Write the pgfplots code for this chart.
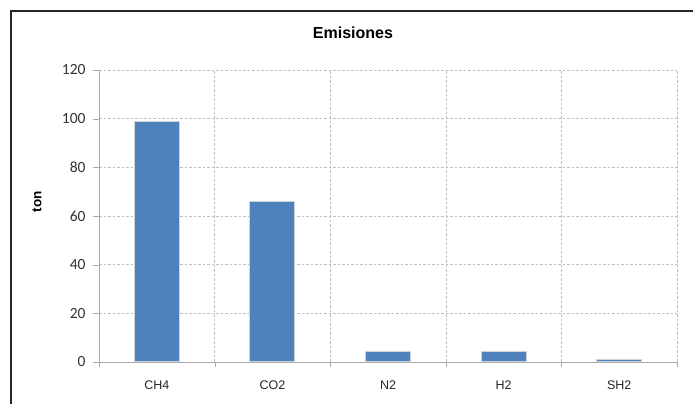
\documentclass[border=0pt]{standalone}
\usepackage{fontspec}
\setmainfont{Liberation Sans}
\newfontfamily\tickfont{Carlito}
\usepackage{pgfplots}
\pgfplotsset{compat=1.18}
\definecolor{barblue}{RGB}{79,129,189}
\definecolor{baredge}{RGB}{205,212,222}
\definecolor{gridgray}{RGB}{190,190,190}
\definecolor{axisgray}{RGB}{170,170,170}
\begin{document}
\begin{tikzpicture}[x=1pt,y=1pt]
\useasboundingbox (0,0) rectangle (693,404);
\fill[white] (0,0) rectangle (693,404);
% marco
\draw[line width=2.2pt, black!85] (11,0) -- (11,393) -- (693,393);
\node[font=\fontsize{16}{16}\selectfont\bfseries] at (353,371) {Emisiones};
\node[font=\fontsize{13.5}{13.5}\selectfont\bfseries, rotate=90] at (37,202) {ton};
\begin{axis}[
    at={(99pt,42pt)}, anchor=south west,
    scale only axis,
    width=578pt, height=292pt,
    xmin=-0.5, xmax=4.5,
    ymin=0, ymax=120,
    axis lines=left,
    axis line style={-, axisgray, line width=0.8pt},
    xtick={0,...,4},
    xticklabels={CH4,CO2,N2,H2,SH2},
    minor xtick={-0.5,0.5,...,4.5},
    ytick={0,20,...,120},
    tick align=outside,
    major tick length=6pt,
    minor tick length=5pt,
    major x tick style={draw=none},
    minor x tick style={axisgray},
    major y tick style={axisgray},
    ymajorgrids, xminorgrids,
    major grid style={gridgray, dash pattern=on 2.5pt off 2pt},
    minor grid style={gridgray, dash pattern=on 2.5pt off 2pt},
    /pgf/number format/assume math mode=true,
    xticklabel style={font=\fontsize{12.5}{13}\selectfont, text=black!85, yshift=-9pt},
    yticklabel style={font=\tickfont\fontsize{15.5}{16}\selectfont, text=black!80, xshift=-4pt},
]
\addplot[ybar, bar width=45pt, fill=barblue, draw=baredge, line width=1pt]
    coordinates {(0,99) (1,66) (2,4.3) (3,4.3) (4,1.1)};
\end{axis}
\end{tikzpicture}
\end{document}
